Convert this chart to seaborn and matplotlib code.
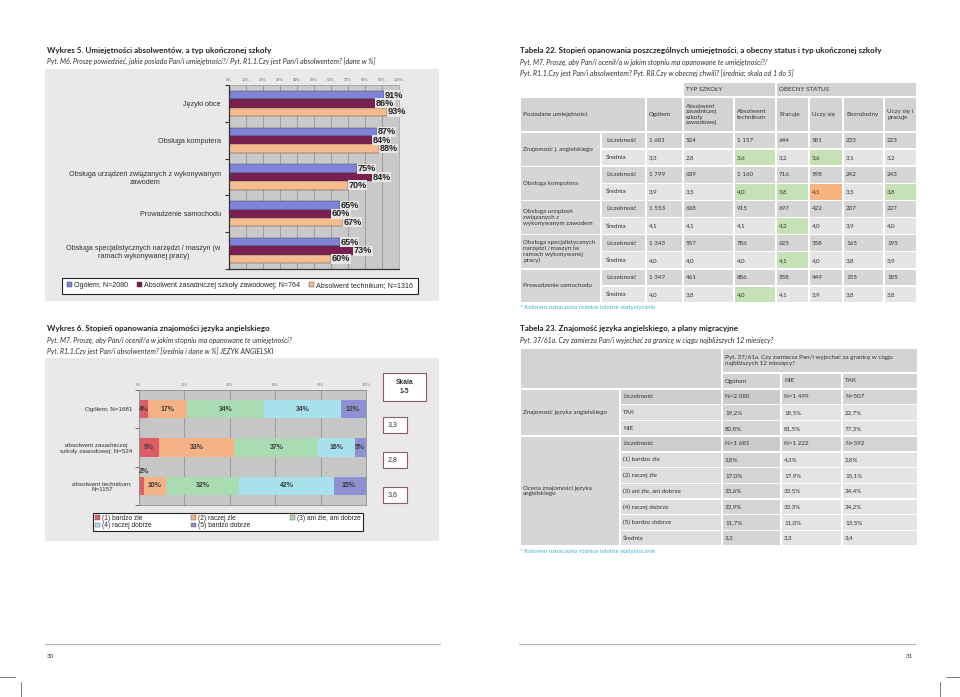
import numpy as np
import pandas as pd
import matplotlib
matplotlib.use("Agg")
import matplotlib.pyplot as plt
import seaborn as sb
from matplotlib.patches import Rectangle, Patch

# ---- data: Wykres 5 ----
skills = ["Języki obce", "Obsługa komputera",
          "Obsługa urządzeń związanych z wykonywanym\nzawodem",
          "Prowadzenie samochodu",
          "Obsługa specjalistycznych narzędzi / maszyn (w\nramach wykonywanej pracy)"]
skill_groups = ["Ogółem; N=2080", "Absolwent zasadniczej szkoły zawodowej; N=764",
                "Absolwent technikum; N=1316"]
skill_ogolem = [91, 87, 75, 65, 65]
skill_zasadnicza = [86, 84, 84, 60, 73]
skill_technikum = [93, 88, 70, 67, 60]

# ---- data: Wykres 6 ----
eng_groups = ["Ogółem; N=1681", "absolwent zasadniczej\nszkoły zawodowej; N=524",
              "absolwent technikum;\nN=1157"]
eng_levels = ["(1) bardzo źle", "(2) raczej źle", "(3) ani źle, ani dobrze",
              "(4) raczej dobrze", "(5) bardzo dobrze"]
eng_ogolem = [4, 17, 34, 34, 12]
eng_zasadnicza = [9, 33, 37, 16, 5]
eng_technikum = [2, 10, 32, 42, 15]
eng_means = [3.3, 2.8, 3.6]

# ---- data: Tabela 22 ----
t22_cols = ["Ogółem", "Absolwent\nzasadniczej\nszkoły\nzawodowej", "Absolwent\ntechnikum",
            "Pracuje", "Uczy się", "Bezrobotny", "Uczy się i\npracuje"]
t22_skills = ["Znajomość j. angielskiego", "Obsługa komputera",
              "Obsługa urządzeń\nzwiązanych z\nwykonywanym zawodem",
              "Obsługa specjalistycznych\nnarzędzi /maszyn (w\nramach wykonywanej\npracy)",
              "Prowadzenie samochodu"]
t22_counts = [[1681, 524, 1157, 644, 581, 233, 223],
              [1799, 639, 1160, 716, 598, 242, 243],
              [1553, 638, 915, 697, 422, 207, 227],
              [1343, 557, 786, 625, 358, 165, 195],
              [1347, 461, 886, 558, 449, 155, 185]]
t22_means = [[3.3, 2.8, 3.6, 3.2, 3.6, 3.1, 3.2],
             [3.9, 3.5, 4.0, 3.8, 4.1, 3.5, 3.8],
             [4.1, 4.1, 4.1, 4.2, 4.0, 3.9, 4.0],
             [4.0, 4.0, 4.0, 4.1, 4.0, 3.8, 3.9],
             [4.0, 3.8, 4.0, 4.1, 3.9, 3.8, 3.8]]
t22_marks = {(0, 2): "g", (0, 4): "g", (1, 2): "g", (1, 3): "g", (1, 4): "o",
             (1, 6): "g", (2, 3): "g", (3, 3): "g", (4, 2): "g"}

# ---- data: Tabela 23 ----
t23_question = "Pyt. 37/61a. Czy zamierza Pan/i wyjechać za granicę w ciągu\nnajbliższych 12 miesięcy?"
t23_cols = ["Ogółem", "NIE", "TAK"]
t23_groups = ["Znajomość języka angielskiego", "Ocena znajomości języka\nangielskiego"]
t23_rows = ["Liczebność", "TAK", "NIE", "Liczebność", "(1) bardzo źle", "(2) raczej źle",
            "(3) ani źle, ani dobrze", "(4) raczej dobrze", "(5) bardzo dobrze", "Średnia"]
t23_values = [["N=2 080", "N=1 499", "N=507"],
              ["19,2%", "18,5%", "22,7%"],
              ["80,8%", "81,5%", "77,3%"],
              ["N=1 681", "N=1 222", "N=392"],
              ["3,8%", "4,3%", "2,8%"],
              ["17,0%", "17,9%", "15,1%"],
              ["33,6%", "33,5%", "34,4%"],
              ["33,9%", "33,3%", "34,2%"],
              ["11,7%", "11,0%", "13,5%"],
              ["3,3", "3,3", "3,4"]]

sb.set_style("white")
plt.rcParams["font.family"] = ["Lato", "DejaVu Sans"]
chart_font = ["Liberation Sans", "DejaVu Sans"]

W, H = 960, 697
fig = plt.figure(figsize=(9.6, 6.97), dpi=100)


def frect(x0, y0, x1, y1):
    return [x0 / W, 1 - y1 / H, (x1 - x0) / W, (y1 - y0) / H]


page = fig.add_axes([0, 0, 1, 1])
page.set_xlim(0, W)
page.set_ylim(H, 0)
page.axis("off")

TXT = "#333333"
TITLE = 5.8
SUB = 5.0


def txt(x, y, s, size=4.5, **kw):
    kw.setdefault("color", TXT)
    page.text(x, y, s, fontsize=size, va="center", **kw)


def cell(x0, y0, x1, y1, fc, text="", size=4.5, color=TXT, pad=3):
    page.add_patch(Rectangle((x0 + 0.7, y0 + 0.7), x1 - x0 - 1.4, y1 - y0 - 1.4,
                             fc=fc, ec="none"))
    if text:
        page.text(x0 + pad, (y0 + y1) / 2, text, fontsize=size, color=color,
                  va="center", ha="left", linespacing=1.15)


# ---- left page titles ----
txt(47, 50, "Wykres 5. Umiejętności absolwentów, a typ ukończonej szkoły", size=TITLE,
    fontweight="bold", color="#222")
txt(47, 61, "Pyt. M6. Proszę powiedzieć, jakie posiada Pan/i umiejętności?/ Pyt. R1.1.Czy jest "
    "Pan/i absolwentem? [dane w %]", size=SUB, style="italic")
txt(47, 328, "Wykres 6. Stopień opanowania znajomości języka angielskiego", size=TITLE,
    fontweight="bold", color="#222")
txt(47, 340, "Pyt. M7. Proszę, aby Pan/i ocenił/a w jakim stopniu ma opanowane te umiejętności?",
    size=SUB, style="italic")
txt(47, 351, "Pyt. R1.1.Czy jest Pan/i absolwentem? [średnia i dane w %] JĘZYK ANGIELSKI",
    size=SUB, style="italic")

page.add_patch(Rectangle((45, 69), 394, 232, fc="#e9e9e9", ec="none"))
page.add_patch(Rectangle((45, 358), 394, 183, fc="#e9e9e9", ec="none"))

# ---- Wykres 5 ----
df5 = pd.DataFrame({
    "skill": skills * 3,
    "grupa": np.repeat(skill_groups, len(skills)),
    "value": skill_ogolem + skill_zasadnicza + skill_technikum,
})
pal5 = ["#7f84d9", "#7b1f50", "#f4bc8f"]
ax1 = fig.add_axes(frect(229, 85, 399, 269))
sb.barplot(data=df5, x="value", y="skill", hue="grupa", palette=pal5, orient="h",
           width=0.68, saturation=1, errorbar=None, edgecolor="#3a3a3a", linewidth=0.3, ax=ax1)
ax1.set_xlim(0, 100)
ax1.set_facecolor("#c9c9c9")
ax1.set_xticks(np.arange(0, 101, 10))
ax1.set_xticklabels([f"{v}%" for v in range(0, 101, 10)], fontsize=2.8, color="#666",
                    family=chart_font)
ax1.xaxis.tick_top()
ax1.tick_params(axis="x", length=0, pad=2)
ax1.grid(axis="x", color="#8a8a8a", linewidth=0.5)
ax1.set_axisbelow(True)
ax1.set_xlabel("")
ax1.set_ylabel("")
for lbl in ax1.get_yticklabels():
    lbl.set_multialignment("center")
    lbl.set_fontsize(5.25)
    lbl.set_family(chart_font)
    lbl.set_color("#333")
ax1.tick_params(axis="y", which="major", length=0, pad=6)
ax1.set_yticks(np.arange(-0.5, len(skills)), minor=True)
ax1.tick_params(axis="y", which="minor", length=3, width=0.8, color="#333", left=True)
for s in ["top", "right"]:
    ax1.spines[s].set_color("#9a9a9a")
    ax1.spines[s].set_linewidth(0.5)
for s in ["left", "bottom"]:
    ax1.spines[s].set_color("#333")
    ax1.spines[s].set_linewidth(0.9)
for cont in ax1.containers:
    ax1.bar_label(cont, fmt="%.0f%%", padding=0.5, fontsize=6.6, fontweight="bold",
                  family=chart_font, color="#222",
                  bbox=dict(boxstyle="square,pad=0.05", fc="#e6e6e6", ec="none"))
sb.move_legend(ax1, "center", bbox_to_anchor=(0.065, -0.092), ncol=3, title=None,
               frameon=True, handlelength=0.7, handleheight=0.7,
               handletextpad=0.3, columnspacing=1.3, borderpad=0.6, fancybox=False,
               edgecolor="#222", framealpha=1, prop={"family": chart_font, "size": 5.1})
ax1.get_legend().get_frame().set_linewidth(0.8)

# ---- Wykres 6 (stacked) ----
pal6 = ["#dd5c68", "#f5b286", "#a9dcb3", "#a7e1ec", "#8e90d2"]
eng_table = np.array([eng_ogolem, eng_zasadnicza, eng_technikum])
eng_cum = eng_table.cumsum(axis=1)
ax2 = fig.add_axes(frect(139, 390, 366, 505))
for k in range(len(eng_levels) - 1, -1, -1):
    d = pd.DataFrame({"grupa": eng_groups, "cum": eng_cum[:, k]})
    sb.barplot(data=d, x="cum", y="grupa", color=pal6[k], orient="h", width=0.48,
               saturation=1, errorbar=None, edgecolor="none", ax=ax2)
ax2.set_xlim(0, 100)
ax2.set_facecolor("#c6c6c6")
ax2.set_xticks(np.arange(0, 101, 20))
ax2.set_xticklabels([f"{v}%" for v in range(0, 101, 20)], fontsize=2.6, color="#777",
                    family=chart_font)
ax2.xaxis.tick_top()
ax2.tick_params(axis="x", length=0, pad=2)
ax2.grid(axis="x", color="#8a8a8a", linewidth=0.5)
ax2.set_axisbelow(True)
ax2.set_xlabel("")
ax2.set_ylabel("")
for lbl in ax2.get_yticklabels():
    lbl.set_multialignment("center")
    lbl.set_fontsize(4.5)
    lbl.set_family(chart_font)
    lbl.set_color("#333")
ax2.tick_params(axis="y", which="major", length=0, pad=5)
ax2.set_yticks(np.arange(-0.5, len(eng_groups)), minor=True)
ax2.tick_params(axis="y", which="minor", length=3, width=0.6, color="#555", left=True)
for s in ["top", "right", "left", "bottom"]:
    ax2.spines[s].set_color("#8f8f8f")
    ax2.spines[s].set_linewidth(0.6)
for i in range(len(eng_groups)):
    for k in range(len(eng_levels)):
        v = eng_table[i, k]
        if v < 3:
            ax2.text(eng_cum[i, k] - v, i - 0.27, f"{v}%", ha="left", va="bottom",
                     fontsize=5.0, fontweight="bold", color="#333", family=chart_font)
        else:
            ax2.text(min(eng_cum[i, k], 100) - v / 2, i, f"{v}%", ha="center", va="center",
                     fontsize=5.0, fontweight="bold", color="#3a3a3a", family=chart_font)
handles = [Patch(fc=c, ec="#555", lw=0.3) for c in pal6]
order = [0, 3, 1, 4, 2]
leg2 = ax2.legend([handles[o] for o in order], [eng_levels[o] for o in order], loc="center",
                  bbox_to_anchor=(0.392, -0.148), ncol=3, frameon=True, fancybox=False,
                  edgecolor="#222", framealpha=1, handlelength=0.7, handleheight=0.7,
                  handletextpad=0.3, columnspacing=6.0, labelspacing=0.05, borderpad=0.3,
                  prop={"family": chart_font, "size": 4.8})
leg2.get_frame().set_linewidth(0.8)

# scale boxes
box_ec = "#8b5a7a"
page.add_patch(Rectangle((383, 373), 43, 28, fc="white", ec=box_ec, lw=0.8))
page.text(404.5, 387, "Skala\n1-5", fontsize=4.8, fontweight="bold", ha="center",
          va="center", color="#333", family=chart_font, linespacing=1.3)
for m, yc in zip(eng_means, [425, 460, 495]):
    page.add_patch(Rectangle((383, yc - 8), 24, 16, fc="white", ec=box_ec, lw=0.8))
    page.text(388, yc, f"{m:.1f}".replace(".", ","), fontsize=5, ha="left", va="center",
              color="#333", family=chart_font)

# ---- Tabela 22 ----
txt(520, 50, "Tabela 22. Stopień opanowania poszczególnych umiejętności, a obecny status i typ "
    "ukończonej szkoły", size=TITLE, fontweight="bold", color="#222")
txt(520, 62, "Pyt. M7. Proszę, aby Pan/i ocenił/a w jakim stopniu ma opanowane te umiejętności?/",
    size=SUB, style="italic")
txt(520, 73, "Pyt. R1.1.Czy jest Pan/i absolwentem? Pyt. R8.Czy w obecnej chwili? [średnia; skala "
    "od 1 do 5]", size=SUB, style="italic")

HEAD = "#d3d3d3"
DARK = "#d6d6d6"
LIGHT = "#e5e5e5"
GREEN = "#c6e1b5"
ORANGE = "#f8b47e"
cx = [520, 601, 646, 683, 734, 776, 809, 843, 884, 917]
cell(cx[3], 82, cx[5], 97, HEAD, "TYP SZKOŁY")
cell(cx[5], 82, cx[9], 97, HEAD, "OBECNY STATUS")
cell(cx[0], 97, cx[2], 132, HEAD, "Posiadane umiejętności")
for j, name in enumerate(t22_cols):
    cell(cx[2 + j], 97, cx[3 + j], 132, HEAD, name)
ry = 132
rh = 17.1
for i, sk in enumerate(t22_skills):
    y0 = ry + 2 * i * rh
    cell(cx[0], y0, cx[1], y0 + 2 * rh, DARK, sk)
    cell(cx[1], y0, cx[2], y0 + rh, DARK, "Liczebność", pad=5)
    cell(cx[1], y0 + rh, cx[2], y0 + 2 * rh, LIGHT, "Średnia", pad=5)
    for j in range(len(t22_cols)):
        cell(cx[2 + j], y0, cx[3 + j], y0 + rh, DARK,
             f"{t22_counts[i][j]:,}".replace(",", " "))
        mk = t22_marks.get((i, j))
        fc = GREEN if mk == "g" else ORANGE if mk == "o" else LIGHT
        cell(cx[2 + j], y0 + rh, cx[3 + j], y0 + 2 * rh, fc,
             f"{t22_means[i][j]:.1f}".replace(".", ","))
txt(520, 308, "* Kolorem oznaczono różnice istotne statystycznie", size=4.4, color="#3ab3c9")

# ---- Tabela 23 ----
txt(520, 328, "Tabela 23. Znajomość języka angielskiego, a plany migracyjne", size=TITLE,
    fontweight="bold", color="#222")
txt(520, 340, "Pyt. 37/61a. Czy zamierza Pan/i wyjechać za granicę w ciągu najbliższych 12 "
    "miesięcy?", size=SUB, style="italic")
cx2 = [520, 620, 722, 781, 842, 918]
cell(cx2[0], 348, cx2[2], 389, HEAD)
cell(cx2[2], 348, cx2[5], 373, HEAD, t23_question)
for j, name in enumerate(t23_cols):
    cell(cx2[2 + j], 373, cx2[3 + j], 389, HEAD, name)
rh2 = 15.7
y_start = 389
cell(cx2[0], y_start, cx2[1], y_start + 3 * rh2, DARK, t23_groups[0])
cell(cx2[0], y_start + 3 * rh2, cx2[1], y_start + 10 * rh2, DARK, t23_groups[1])
for i, rname in enumerate(t23_rows):
    y0 = y_start + i * rh2
    is_n = rname == "Liczebność"
    cell(cx2[1], y0, cx2[2], y0 + rh2, "#cdcdcd" if is_n else "#dedede", rname)
    for j in range(len(t23_cols)):
        if is_n:
            fc = "#cbcbcb" if j == 0 else "#d4d4d4"
        else:
            fc = "#d4d4d4" if j == 0 else "#e4e4e4"
        cell(cx2[2 + j], y0, cx2[3 + j], y0 + rh2, fc, t23_values[i][j])
txt(520, 552, "* Kolorem oznaczono różnice istotne statystycznie", size=4.4, color="#3ab3c9")

# ---- page footer ----
page.plot([45, 440], [644, 644], color="#b0b0b0", lw=0.8)
page.plot([519, 915], [644, 644], color="#b0b0b0", lw=0.8)
txt(47, 656, "30", size=4.5)
txt(913, 656, "31", size=4.5, ha="right")
page.plot([0, 15], [677, 677], color="#666", lw=0.6)
page.plot([21, 21], [682, 697], color="#666", lw=0.6)
page.plot([946, 960], [677, 677], color="#666", lw=0.6)
page.plot([940, 940], [682, 697], color="#666", lw=0.6)

fig.savefig("out.png", dpi=100, facecolor="white")
